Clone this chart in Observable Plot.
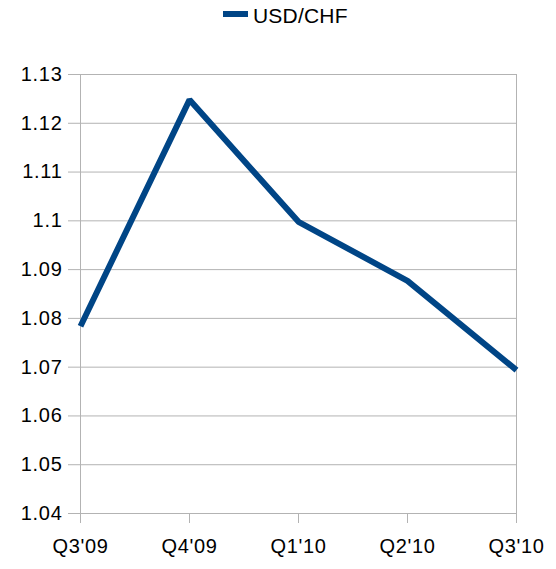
<!DOCTYPE html>
<html>
<head>
<meta charset="utf-8">
<script src="https://cdn.jsdelivr.net/npm/d3@7"></script>
<script src="https://cdn.jsdelivr.net/npm/@observablehq/plot@0.6"></script>
<style>
  body { margin: 0; background: #fff; font-family: "Liberation Sans", Arial, sans-serif; }
  #legend { position: relative; width: 556px; height: 32px; }
  #legend .sw { position: absolute; left: 223px; top: 11px; width: 25px; height: 6px; background: #004586; }
  #legend .tx { position: absolute; left: 253px; top: 5px; font-size: 21px; line-height: 21px; color: #000; letter-spacing: 0.2px; }
  svg { display: block; }
</style>
</head>
<body>
<div id="legend"><span class="sw"></span><span class="tx">USD/CHF</span></div>
<div id="chart"></div>
<script>
const quarters = ["Q3'09", "Q4'09", "Q1'10", "Q2'10", "Q3'10"];
const usdChf = [1.0784, 1.1248, 1.0998, 1.0877, 1.0694];
const yTicks = [1.04, 1.05, 1.06, 1.07, 1.08, 1.09, 1.10, 1.11, 1.12, 1.13];

const data = quarters.map((q, i) => ({quarter: q, value: usdChf[i]}));
const fmt = d => String(+d.toFixed(2));

const chart = Plot.plot({
  width: 556,
  height: 537,
  marginTop: 42,
  marginBottom: 56,
  marginLeft: 80,
  marginRight: 40,
  style: {fontFamily: '"Liberation Sans", Arial, sans-serif', fontSize: "20px", color: "#000", background: "#fff", letterSpacing: "0.7px"},
  x: {type: "point", domain: quarters, padding: 0},
  y: {domain: [1.04, 1.13]},
  marks: [
    Plot.gridY(yTicks, {stroke: "#b3b3b3", strokeOpacity: 1, strokeWidth: 1}),
    Plot.ruleX([quarters[0], quarters[quarters.length - 1]], {stroke: "#b3b3b3", strokeWidth: 1}),
    Plot.axisY(yTicks, {tickSize: 12, tickPadding: 6, tickFormat: fmt, stroke: "#b3b3b3", label: null, fontSize: 20, fill: "#000"}),
    Plot.axisX(quarters, {tickSize: 10, tickPadding: 15, stroke: "#b3b3b3", label: null, fontSize: 20, fill: "#000"}),
    Plot.line(data, {x: "quarter", y: "value", stroke: "#004586", strokeWidth: 6, strokeLinejoin: "miter", strokeLinecap: "butt"})
  ]
});
document.getElementById("chart").appendChild(chart);
</script>
</body>
</html>
